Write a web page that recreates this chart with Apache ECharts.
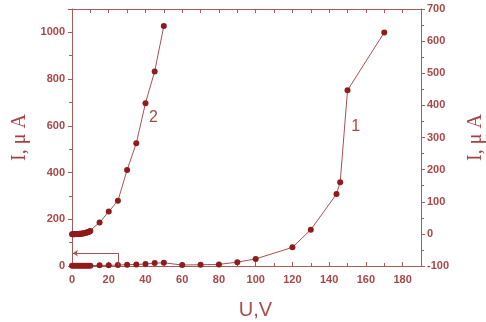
<!DOCTYPE html>
<html>
<head>
<meta charset="utf-8">
<script src="https://cdn.jsdelivr.net/npm/echarts@6/dist/echarts.min.js"></script>
<style>
  html, body { margin: 0; padding: 0; background: #fff; }
  #chart { width: 486px; height: 322px; }
</style>
</head>
<body>
<div id="chart"></div>
<script>
// curve 2 (left axis, I in uA)
const u2 = [0, 0.5, 1, 1.5, 2, 2.5, 3, 3.5, 4, 4.5, 5, 5.5, 6, 6.5, 7, 7.5, 8, 8.5, 9, 9.5, 10,
  15, 20, 25, 30, 35, 40, 45, 50];
const i2 = [136, 136, 136, 136, 137, 137, 137, 137, 138, 138, 138, 139, 139, 140, 141, 142, 143, 144, 146, 148, 150,
  186, 233, 279, 411, 525, 697, 833, 1027];

// curve 1 (right axis)
const u1 = [0, 1, 2, 3, 4, 5, 6, 7, 8, 9, 10, 15, 20, 25, 30, 35, 40, 45, 50,
  60, 70, 80, 90, 100, 120, 130, 144, 146, 150, 170];
const i1 = [-99, -99, -99, -99, -99, -99, -99, -99, -99, -99, -99, -98, -98, -97, -96, -95, -94, -91, -90,
  -97, -96, -95, -88, -78, -42, 13, 124, 161, 447, 627];

const leftTicks = { min: 0, max: 1100, interval: 200 };
const rightTicks = { min: -100, max: 700, interval: 100 };
const xTicks = { min: 0, max: 190, interval: 20 };

const AXIS = '#a85a5a';
const LABEL = '#a84848';
const LINE = '#a85050';
const DOT = '#8e1c1c';

const chart = echarts.init(document.getElementById('chart'), null, { renderer: 'canvas' });

const lab = { color: LABEL, fontFamily: 'Liberation Sans', fontSize: 11, fontWeight: 'bold' };
const axLine = { show: true, onZero: false, lineStyle: { color: AXIS, width: 1 } };

chart.setOption({
  animation: false,
  grid: { left: 72, right: 65, top: 9, bottom: 56, outerBoundsMode: 'none', containLabel: false },
  xAxis: [
    {
      type: 'value', position: 'bottom', ...xTicks,
      axisLine: axLine,
      axisTick: { inside: true, length: 4, lineStyle: { color: AXIS } },
      minorTick: { show: true, splitNumber: 2, length: 3, lineStyle: { color: AXIS } },
      axisLabel: { ...lab, margin: 8, formatter: v => (v % 20 === 0 ? v : '') },
      splitLine: { show: false },
      name: 'U,V', nameLocation: 'middle', nameGap: 34,
      nameTextStyle: { color: '#b04a4a', fontFamily: 'Liberation Sans', fontSize: 20, padding: [0, 0, 0, 18] }
    },
    {
      type: 'value', position: 'top', min: 0, max: 190, interval: 10,
      axisLine: axLine,
      axisTick: { inside: true, length: 4, lineStyle: { color: AXIS } },
      axisLabel: { show: false },
      splitLine: { show: false }
    }
  ],
  yAxis: [
    {
      type: 'value', position: 'left', ...leftTicks,
      axisLine: axLine,
      axisTick: { inside: false, length: 4, lineStyle: { color: AXIS } },
      minorTick: { show: true, splitNumber: 2, length: 3, lineStyle: { color: AXIS } },
      axisLabel: { ...lab, margin: 7, formatter: v => (v % 200 === 0 ? v : '') },
      splitLine: { show: false },
      name: 'I, \u03bc A', nameLocation: 'middle', nameGap: 38, nameRotate: 90,
      nameTextStyle: { color: '#a84040', fontFamily: 'Liberation Serif', fontSize: 20 }
    },
    {
      type: 'value', position: 'right', ...rightTicks,
      axisLine: axLine,
      axisTick: { inside: false, length: 4, lineStyle: { color: AXIS } },
      minorTick: { show: true, splitNumber: 2, length: 3, lineStyle: { color: AXIS } },
      axisLabel: { ...lab, margin: 6 },
      splitLine: { show: false },
      name: 'I, \u03bc A', nameLocation: 'middle', nameGap: 45, nameRotate: 90,
      nameTextStyle: { color: '#a84040', fontFamily: 'Liberation Serif', fontSize: 20 }
    }
  ],
  series: [
    {
      type: 'line', xAxisIndex: 0, yAxisIndex: 0,
      data: u2.map((u, k) => [u, i2[k]]),
      symbol: 'circle', symbolSize: 6, showAllSymbol: true,
      lineStyle: { color: LINE, width: 1 },
      itemStyle: { color: DOT },
      markPoint: {
        symbol: 'circle', symbolSize: 0,
        label: { show: true, formatter: '2', color: LABEL, fontFamily: 'Liberation Sans', fontSize: 16 },
        data: [{ coord: [44.3, 635] }]
      },
      markLine: {
        silent: true, symbol: ['none', 'arrow'], symbolSize: [5, 5],
        lineStyle: { color: LINE, width: 1, type: 'solid' },
        label: { show: false },
        data: [
          [{ coord: [25, 55] }, { coord: [0.5, 55] }],
          [{ coord: [25, 55], symbol: 'none' }, { coord: [25, 0], symbol: 'none' }]
        ]
      }
    },
    {
      type: 'line', xAxisIndex: 0, yAxisIndex: 1,
      data: u1.map((u, k) => [u, i1[k]]),
      symbol: 'circle', symbolSize: 6, showAllSymbol: true,
      lineStyle: { color: LINE, width: 1 },
      itemStyle: { color: DOT },
      markPoint: {
        symbol: 'circle', symbolSize: 0,
        label: { show: true, formatter: '1', color: LABEL, fontFamily: 'Liberation Sans', fontSize: 16 },
        data: [{ coord: [154.4, 333] }]
      }
    }
  ]
});
</script>
</body>
</html>
